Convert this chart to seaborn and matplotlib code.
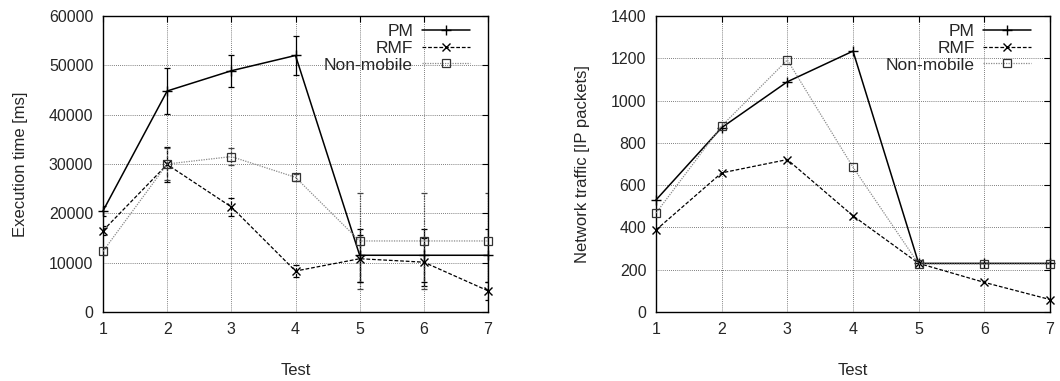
import matplotlib
matplotlib.use("Agg")
import numpy as np
import pandas as pd
import seaborn as sns
import matplotlib.pyplot as plt


tests = [1, 2, 3, 4, 5, 6, 7]
series = ["PM", "RMF", "Non-mobile"]

# execution time [ms] with error bars (left panel)
exec_pm = [20500, 44800, 48900, 52000, 11500, 11500, 11500]
exec_rmf = [16500, 29900, 21300, 8300, 10800, 10100, 4300]
exec_nm = [12300, 30000, 31500, 27300, 14400, 14400, 14400]
exec_pm_err = [1000, 4600, 3200, 3900, 5400, 5400, 5400]
exec_rmf_err = [900, 3500, 1800, 1200, 4800, 4800, 1800]
exec_nm_err = [700, 3300, 1700, 700, 9800, 9800, 9800]

# network traffic [IP packets] (right panel)
net_pm = [530, 872, 1089, 1234, 230, 230, 230]
net_rmf = [388, 658, 721, 455, 230, 140, 59]
net_nm = [468, 880, 1192, 685, 227, 227, 227]

sns.set_style("white")
plt.rcParams["font.family"] = ["Liberation Sans", "DejaVu Sans"]
plt.rcParams["font.size"] = 11.5

styles = {
    "PM": dict(color="black", linestyle="-", marker="+", lw=1.1, ms=7, mew=1.0, mfc="none", mec="black"),
    "RMF": dict(color="black", linestyle=(0, (3, 1.5)), marker="x", lw=0.9, ms=5.5, mew=1.0, mfc="none", mec="black"),
    "Non-mobile": dict(color="#8a8a8a", linestyle=(0, (1, 1)), marker="s", lw=0.9, ms=5.5, mew=0.9, mfc="none", mec="#333333"),
}


def make_df(vals):
    rows = []
    for name, v in zip(series, vals):
        for t, y in zip(tests, v):
            rows.append({"Test": t, "value": y, "series": name})
    return pd.DataFrame(rows)


def draw_panel(ax, df, ylim, yticks, ylabel, errs=None):
    for name in series:
        st = styles[name]
        d = df[df["series"] == name]
        sns.lineplot(data=d, x="Test", y="value", ax=ax, color=st["color"],
                     linestyle=st["linestyle"], linewidth=st["lw"],
                     marker=st["marker"], markersize=st["ms"],
                     markeredgewidth=st["mew"], markerfacecolor=st["mfc"],
                     markeredgecolor=st["mec"], label=name, legend=False,
                     clip_on=False, zorder=3)
        if errs is not None:
            eb = ax.errorbar(d["Test"], d["value"], yerr=errs[name], fmt="none",
                             ecolor="black" if name != "Non-mobile" else "#444444",
                             elinewidth=0.9, capsize=2.5, capthick=0.9)
            eb[2][0].set_linestyle(st["linestyle"])

    ax.set_xlim(1, 7)
    ax.set_ylim(*ylim)
    ax.set_xticks(tests)
    ax.set_yticks(yticks)
    ax.grid(True, linestyle=(0, (1, 1.5)), color="#555555", linewidth=0.6)
    ax.tick_params(direction="in", length=4, top=True, right=True,
                   labelsize=11.5, pad=7, color="black")
    for s in ax.spines.values():
        s.set_color("black")
        s.set_linewidth(1.0)
    ax.set_xlabel("Test", labelpad=19, fontsize=12)
    ax.set_ylabel(ylabel, labelpad=15, fontsize=12)

    handles, labels = ax.get_legend_handles_labels()
    ax.legend(handles[:3], labels[:3], loc="upper right",
              bbox_to_anchor=(0.952, 0.972), frameon=False, markerfirst=False,
              handlelength=2.75, handletextpad=0.5, labelspacing=0.08,
              borderaxespad=0, borderpad=0, fontsize=12.5)


fig = plt.figure(figsize=(10.6, 3.81), dpi=100)
ax1 = fig.add_axes([103 / 1060, 1 - 312 / 381, 385 / 1060, 296 / 381])
ax2 = fig.add_axes([656 / 1060, 1 - 312 / 381, 394 / 1060, 296 / 381])

df_exec = make_df([exec_pm, exec_rmf, exec_nm])
df_net = make_df([net_pm, net_rmf, net_nm])

draw_panel(ax1, df_exec, (0, 60000), np.arange(0, 60001, 10000),
           "Execution time [ms]",
           errs={"PM": exec_pm_err, "RMF": exec_rmf_err, "Non-mobile": exec_nm_err})
draw_panel(ax2, df_net, (0, 1400), np.arange(0, 1401, 200),
           "Network traffic [IP packets]")

fig.savefig("out.png", dpi=100)
